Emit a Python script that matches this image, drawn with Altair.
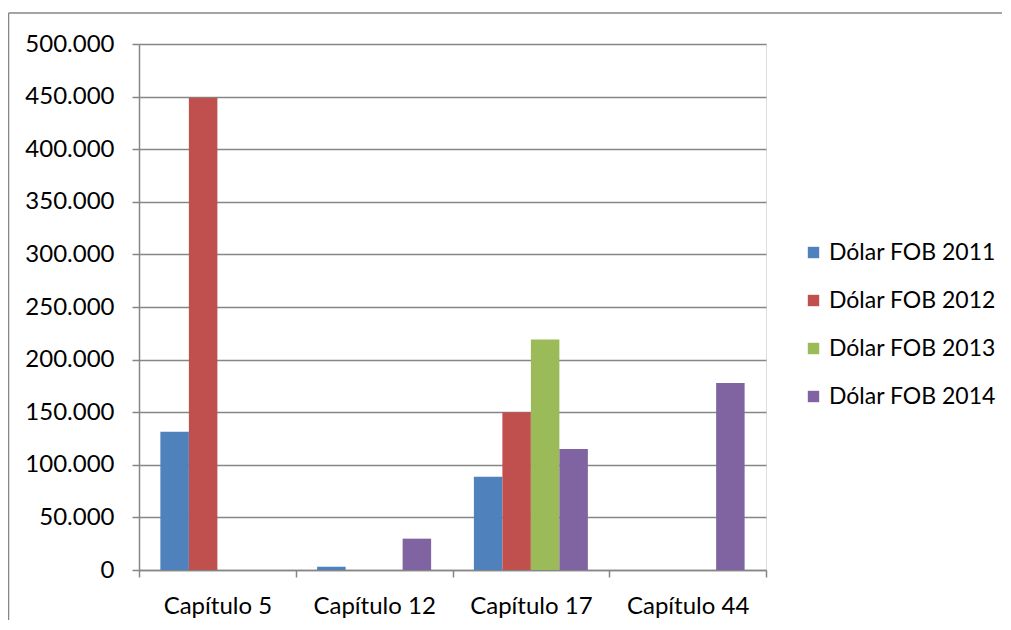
import altair as alt
import pandas as pd

categories = ["Capítulo 5", "Capítulo 12", "Capítulo 17", "Capítulo 44"]
series = ["Dólar FOB 2011", "Dólar FOB 2012", "Dólar FOB 2013", "Dólar FOB 2014"]
v2011 = [131500, 3100, 88600, 0]
v2012 = [448800, 0, 150000, 0]
v2013 = [0, 0, 219000, 0]
v2014 = [0, 29800, 115000, 177800]
colors = ["#4F81BD", "#C0504D", "#9BBB59", "#8064A2"]

rows = []
for s, vals in zip(series, [v2011, v2012, v2013, v2014]):
    for c, v in zip(categories, vals):
        rows.append({"cat": c, "serie": s, "valor": v})
df = pd.DataFrame(rows)

FONT = "Lato"
FS = 24
W, H = 627, 526
GRAY = "#868686"

bars = alt.Chart(df).mark_bar().encode(
    x=alt.X("cat:N", sort=categories, title=None,
            scale=alt.Scale(paddingInner=0, paddingOuter=0),
            axis=alt.Axis(labelAngle=0, tickBand="extent", tickSize=7, tickColor=GRAY,
                          tickWidth=1.5, domainColor=GRAY, domainWidth=1.5,
                          labelFont=FONT, labelFontSize=FS, labelColor="#000000",
                          labelPadding=17, grid=False)),
    xOffset=alt.XOffset("serie:N", sort=series,
                        scale=alt.Scale(paddingInner=0, paddingOuter=0.75)),
    y=alt.Y("valor:Q", title=None,
            scale=alt.Scale(domain=[0, 500000], nice=False),
            axis=alt.Axis(values=list(range(0, 500001, 50000)), tickSize=7, tickColor=GRAY,
                          tickWidth=1.5, domainColor=GRAY, domainWidth=1.5,
                          gridColor=GRAY, gridWidth=1.5,
                          labelExpr="replace(format(datum.value, ','), ',', '.')",
                          labelFont=FONT, labelFontSize=FS, labelColor="#000000",
                          labelPadding=18)),
    color=alt.Color("serie:N", sort=series, title=None,
                    scale=alt.Scale(domain=series, range=colors),
                    legend=alt.Legend(orient="none", legendX=663, legendY=197, padding=0,
                                      symbolType="square", symbolSize=130,
                                      symbolStrokeWidth=0, labelFont=FONT,
                                      labelFontSize=23, labelColor="#000000",
                                      labelOffset=4, labelLimit=400, rowPadding=24)),
)

border_top = alt.Chart(pd.DataFrame({"a": [0]})).mark_rule(
    color=GRAY, strokeWidth=1.5).encode(
    x=alt.value(-130.5), x2=alt.value(2000), y=alt.value(-31))
border_left = alt.Chart(pd.DataFrame({"a": [0]})).mark_rule(
    color=GRAY, strokeWidth=1.5).encode(
    x=alt.value(-130.5), y=alt.value(-31), y2=alt.value(2000))

chart = alt.layer(bars, border_top, border_left).properties(
    width=W, height=H,
    autosize=alt.AutoSizeParams(type="none"),
    padding={"left": 131, "top": 36, "right": 236, "bottom": 50},
).configure_view(stroke=None).configure(background="white")

chart.save("out.html", embed_options={"renderer": "svg", "actions": False})
